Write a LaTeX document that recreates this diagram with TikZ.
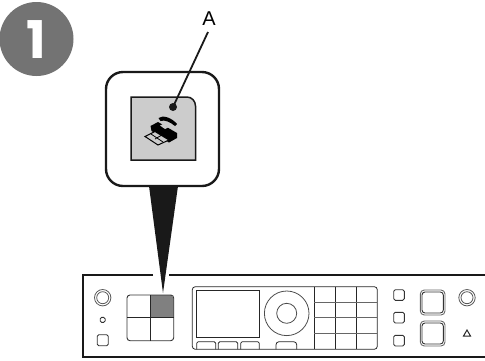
\documentclass[tikz,border=0pt]{standalone}
\usepackage{fontspec}
\setmainfont{Liberation Sans}
\newfontfamily\badgefont{Poppins}
\usetikzlibrary{arrows.meta}

\tikzset{
    panelline/.style={draw=black!85, line width=0.8pt},
    softkey/.style={draw=black!80, line width=0.9pt, rounded corners=1.5pt},
    heavyline/.style={draw=black!90, line width=2.4pt},
}

\begin{document}
\begin{tikzpicture}[x=1pt, y=-1pt]
    \useasboundingbox (0,0) rectangle (485,360);
    % 序号
    \node[circle, fill=black!55, minimum size=74pt, inner sep=0pt] (badge) at (36.5,39) {};
    \node[text=white, font=\badgefont\bfseries\fontsize{52}{52}\selectfont, inner sep=0pt] (one) at (36.5,40) {1};
    % 放大框
    \node[heavyline, fill=white, rounded corners=17pt, minimum width=113pt, minimum height=114pt, inner sep=0pt] (callout) at (162.5,129) {};
    \coordinate (tip) at (163,293);
    \filldraw[draw=none, fill=black!90] (149,186) -- (178,186) -- (tip) -- cycle;
    % 灰色按键
    \filldraw[fill=black!20, draw=black!90, line width=1.5pt] (131,97) -- (187,97) to[out=0, in=90] (195.5,106) -- (195.5,160) -- (131,160) -- cycle;
    % 传真图标
    \fill[black] (158.5,118) .. controls (163,114.5) and (172,118) .. (177,124) -- (175,126) .. controls (170,122) and (165,119.5) .. (160.5,121) -- cycle;
    \fill[black] (150.5,126) -- (158,122) -- (177,133) -- (177,138) -- (169,142.5) -- (151.5,131) -- cycle;
    \fill[black!20] (160,125.5) -- (163,124) -- (168,127.5) -- (165,129) -- cycle;
    \filldraw[fill=black!20, draw=black, line width=1pt] (145,136.5) -- (155,131.5) -- (169,140) -- (158,145) -- cycle;
    \draw[black, line width=0.8pt] (151,134) -- (163,142) (155,139) -- (161,135.5);
    % 引线
    \node[font=\fontsize{20}{22}\selectfont, inner sep=0pt] (A) at (209,18.5) {A};
    \coordinate (dot) at (173,107);
    \draw[black!90, line width=1.8pt] (208,32) -- (dot);
    \fill[black!90] (dot) circle (4pt);
    % 面板
    \coordinate (edge) at (485,275);
    \draw[heavyline, line width=2pt] (153,275) -- (82.5,275) -- (82.5,357) -- (485,357);
    \draw[heavyline, line width=2pt] (169,275) -- (edge);
    % 左侧
    \draw[panelline, draw=black!65] (102.7,297.7) circle (8.2pt) circle (6pt);
    \draw[softkey] (100.2,317.4) rectangle (105.2,322.4);
    \draw[softkey] (97.2,334.7) rectangle (108.2,345.7);
    % 四键
    \fill[black!50] (150.3,295) -- (170.7,295) -- (173.7,298) -- (173.7,317.7) -- (150.3,317.7) -- cycle;
    \draw[softkey, rounded corners=3pt] (127,295) rectangle (173.7,340.7);
    \draw[panelline] (150.3,295) -- (150.3,340.7) (127,317.7) -- (173.7,317.7);
    % 屏幕
    \draw[panelline, rounded corners=3pt] (192.3,349.3) -- (192.3,286.7) -- (377.3,286.7) -- (377.3,349.3) -- cycle;
    \draw[panelline, line width=1pt] (196.7,290.7) rectangle (259,337.3);
    \draw[panelline, rounded corners=1.5pt] (196.7,349.3) -- (196.7,341.7) -- (215.7,341.7) -- (215.7,349.3);
    \draw[panelline, rounded corners=1.5pt] (218.3,349.3) -- (218.3,341.7) -- (237.7,341.7) -- (237.7,349.3);
    \draw[panelline, rounded corners=1.5pt] (240.7,349.3) -- (240.7,341.7) -- (259.3,341.7) -- (259.3,349.3);
    % 转盘
    \draw[panelline, draw=black!70] (286.7,313.3) circle (22.3pt) circle (10pt);
    \draw[panelline, rounded corners=3pt] (276,349.3) -- (276,341.7) -- (296.7,341.7) -- (296.7,349.3);
    % 数字键
    \draw[panelline] (314.3,286.7) -- (314.3,349.3) (335.3,286.7) -- (335.3,349.3) (356.7,286.7) -- (356.7,349.3);
    \draw[panelline, draw=black!60] (314.3,302) -- (377.3,302) (314.3,317.7) -- (377.3,317.7) (314.3,333.7) -- (377.3,333.7);
    % 右侧
    \draw[softkey] (393.7,289.7) rectangle (404.3,300.3);
    \draw[softkey] (393.7,312.4) rectangle (404.3,323);
    \draw[softkey] (393.7,335.4) rectangle (404.3,346);
    \draw[softkey, rounded corners=4pt, draw=black!60] (420.3,290) rectangle (445,315);
    \draw[softkey, rounded corners=3pt] (422,292) rectangle (443.3,313);
    \draw[softkey, rounded corners=4pt, draw=black!60] (420.3,321) rectangle (445,346);
    \draw[softkey, rounded corners=3pt] (422,323) rectangle (443.3,344);
    \draw[panelline, draw=black!65] (467,297.7) circle (8.2pt) circle (6pt);
    \draw[panelline, line width=1pt] (463.5,336) -- (467,330) -- (470.5,336) -- cycle;
\end{tikzpicture}
\end{document}
